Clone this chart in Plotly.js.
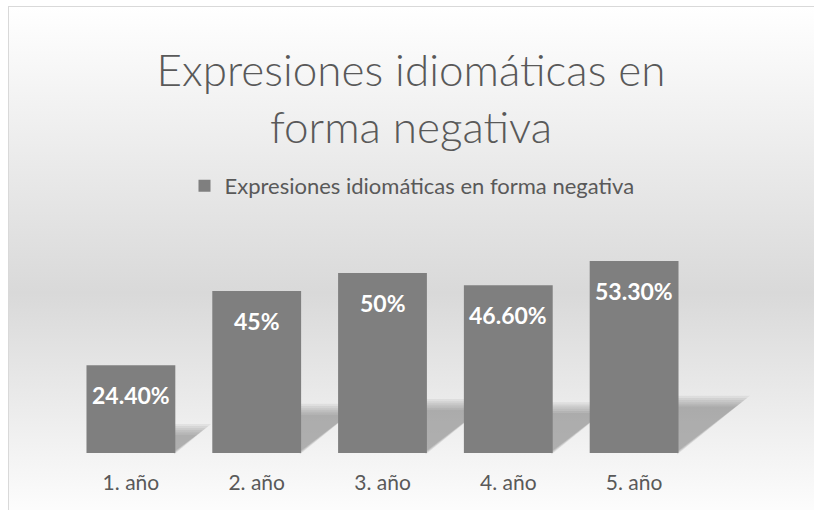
<!DOCTYPE html>
<html>
<head>
<meta charset="utf-8">
<script src="https://cdn.plot.ly/plotly-3.0.1.min.js"></script>
<style>
html,body{margin:0;padding:0;background:#ffffff;}
#wrap{position:absolute;left:0;top:0;width:814px;height:510px;overflow:hidden;}
#bg{position:absolute;left:8px;top:6px;width:820px;height:520px;
  background:linear-gradient(to bottom,#ffffff 0%,#d9d9d9 55%,#ffffff 100%);
  border-left:1px solid #d9d9d9;border-top:1px solid #d9d9d9;}
#chart{position:absolute;left:0;top:0;width:814px;height:510px;}
</style>
</head>
<body>
<div id="wrap"><div id="bg"></div><div id="chart"></div></div>
<script>
const categories = ["1. año", "2. año", "3. año", "4. año", "5. año"];
const values = [24.4, 45, 50, 46.6, 53.3];
const labels = ["24.40%", "45%", "50%", "46.60%", "53.30%"];
const seriesName = "Expresiones idiomáticas en forma negativa";
const chartTitle = "Expresiones idiomáticas en<br>forma negativa";

const FONT = "Lato, 'Open Sans', sans-serif";
const HALF = 0.353;
const YMAX = 60;
const trace = {
  type: "bar",
  x: categories,
  y: values,
  name: seriesName,
  marker: {color: "#7f7f7f"},
  hoverinfo: "none",
  showlegend: true
};

const annotations = categories.map((c, i) => ({
  x: c, y: values[i], xref: "x", yref: "y",
  text: "<b>" + labels[i] + "</b>",
  showarrow: false, yanchor: "middle", yshift: -30,
  font: {family: FONT, size: 23, color: "#ffffff"}
}));

// soft perspective shadows to the right of each bar (derived from the values),
// built from several faint layers so the edges fade
const n = categories.length;
const px = x => (x + 0.5) / n;      // category-index units -> paper x
const py = y => y / YMAX;           // value units -> paper y
const shapes = [];
values.forEach((v, i) => {
  const xr = i + HALF - 0.01, s = 0.0098 * v, h = 0.27 * v;
  for (let k = 0; k < 6; k++) {
    const d = (k - 2.5) * 0.6;          // value units (vertical spread)
    const dx = (k - 2.5) * 0.022;       // category units (horizontal spread)
    shapes.push({
      type: "path", xref: "paper", yref: "paper", layer: "below",
      path: `M${px(xr)},${py(0 - d * 0.3)} L${px(xr)},${py(h + d)} L${px(xr + s + dx)},${py(h + d)} Z`,
      fillcolor: "rgba(70,70,70,0.075)", line: {width: 0}
    });
  }
});

const layout = {
  width: 814, height: 510,
  paper_bgcolor: "rgba(0,0,0,0)",
  plot_bgcolor: "rgba(0,0,0,0)",
  margin: {l: 67.5, r: 116.5, t: 237, b: 57},
  title: {
    text: chartTitle,
    font: {family: FONT, size: 44, color: "#595959", weight: 300},
    x: 411/814, xref: "container", xanchor: "center",
    y: 1 - 86/510, yref: "container", yanchor: "middle"
  },
  showlegend: true,
  legend: {
    orientation: "h",
    x: 412/814, xref: "container", xanchor: "center",
    y: 1 - 186/510, yref: "container", yanchor: "middle",
    font: {family: FONT, size: 22, color: "#595959"},
    bgcolor: "rgba(0,0,0,0)",
    itemwidth: 30
  },
  bargap: 0.294,
  xaxis: {
    showgrid: false, zeroline: false, showline: false, ticks: "",
    tickfont: {family: FONT, size: 21, color: "#595959"},
    ticklabelstandoff: 15
  },
  yaxis: {
    range: [0, YMAX], visible: false, showgrid: false, zeroline: false
  },
  shapes: shapes,
  annotations: annotations
};

Plotly.newPlot("chart", [trace], layout, {displayModeBar: false, staticPlot: true});
</script>
</body>
</html>
